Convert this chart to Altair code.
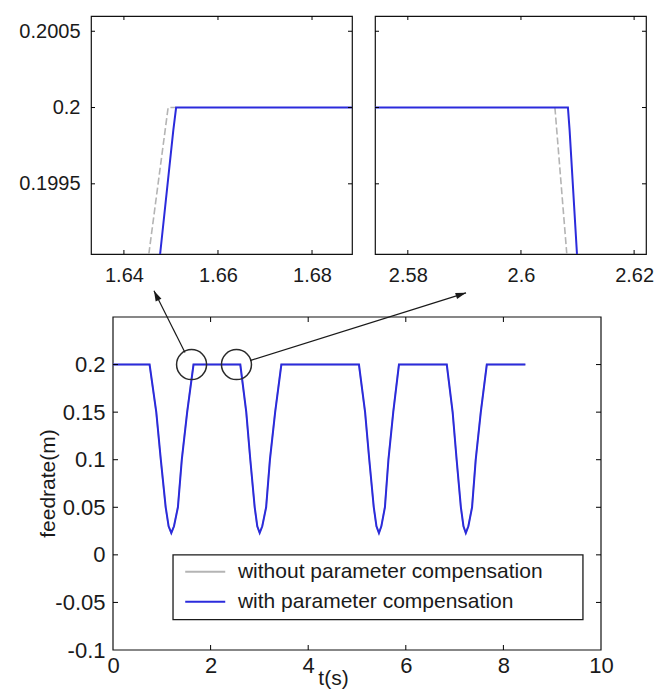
import altair as alt
import pandas as pd

# ---------------- data ----------------
# main panel: feedrate with parameter compensation
t_with = [0.0, 0.75, 0.887, 0.98, 1.08, 1.14, 1.195, 1.25, 1.33, 1.41, 1.52, 1.65,
          2.609, 2.731, 2.814, 2.904, 2.957, 3.006, 3.059, 3.138, 3.216, 3.323, 3.45,
          5.04, 5.166, 5.252, 5.344, 5.399, 5.45, 5.499, 5.572, 5.644, 5.743, 5.86,
          6.84, 6.96, 7.042, 7.129, 7.182, 7.23, 7.282, 7.358, 7.433, 7.537, 7.66, 8.45]
f_with = [0.2, 0.2, 0.15, 0.10, 0.05, 0.03, 0.023, 0.03, 0.05, 0.10, 0.15, 0.2,
          0.2, 0.15, 0.10, 0.05, 0.03, 0.023, 0.03, 0.05, 0.10, 0.15, 0.2,
          0.2, 0.15, 0.10, 0.05, 0.03, 0.023, 0.03, 0.05, 0.10, 0.15, 0.2,
          0.2, 0.15, 0.10, 0.05, 0.03, 0.023, 0.03, 0.05, 0.10, 0.15, 0.2, 0.2]
# main panel: feedrate without parameter compensation (almost identical)
t_without = [0.0, 0.748, 0.885, 0.978, 1.078, 1.138, 1.193, 1.248, 1.328, 1.408, 1.518, 1.648,
             2.606, 2.729, 2.812, 2.902, 2.955, 3.004, 3.057, 3.136, 3.214, 3.321, 3.448,
             5.038, 5.164, 5.25, 5.342, 5.397, 5.448, 5.497, 5.57, 5.642, 5.741, 5.858,
             6.838, 6.958, 7.04, 7.127, 7.18, 7.228, 7.28, 7.356, 7.431, 7.535, 7.658, 8.45]
f_without = f_with

# zoomed insets
in1_t_with = [1.6477, 1.6505, 1.6511, 1.6885]
in1_f_with = [0.19904, 0.19985, 0.2, 0.2]
in1_t_without = [1.6453, 1.6494, 1.6511]
in1_f_without = [0.19904, 0.2, 0.2]

in2_t_with = [2.5742, 2.6083, 2.6086, 2.6099]
in2_f_with = [0.2, 0.2, 0.19985, 0.19904]
in2_t_without = [2.6060, 2.6081]
in2_f_without = [0.2, 0.19904]

# tick values
main_xticks = [0, 2, 4, 6, 8, 10]
main_yticks = [-0.1, -0.05, 0, 0.05, 0.1, 0.15, 0.2]
in_yticks = [0.1995, 0.2, 0.2005]
in1_xticks = [1.64, 1.66, 1.68]
in2_xticks = [2.58, 2.6, 2.62]

# annotations on the main panel
circle_t = [1.61, 2.53]
circle_f = [0.2, 0.2]
arrow_t0 = [1.475, 2.81]
arrow_f0 = [0.2126, 0.2042]
arrow_t1 = [0.84, 7.234]
arrow_f1 = [0.2775, 0.2754]
arrow_angle = [334, 72.5]

legend_labels = ["without parameter compensation", "with parameter compensation"]
legend_colors = ["#b4b4b4", "#2b2bdc"]
legend_f = [-0.0178, -0.0492]

BLUE = "#2b2bdc"
GRAY = "#b4b4b4"
FONT = "Liberation Sans"
INK = "#1a1a1a"

FMT = "datum.value < 0 ? '-' + format(-datum.value, '~g') : format(datum.value, '~g')"


def inward_ticks(xvals, yvals, X, Y, x0, x1, H, L):
    dx = pd.DataFrame({"v": xvals})
    dy = pd.DataFrame({"v": yvals})
    base_x = alt.Chart(dx).mark_rule(color="#000", strokeWidth=1)
    base_y = alt.Chart(dy).mark_rule(color="#000", strokeWidth=1)
    xb = base_x.encode(x=X("v"), y=alt.value(H), y2=alt.value(H - L))
    xt = base_x.encode(x=X("v"), y=alt.value(0), y2=alt.value(L))
    yl = base_y.encode(y=Y("v"), x=alt.value(x0), x2=alt.value(x0 + L))
    yr = base_y.encode(y=Y("v"), x=alt.value(x1), x2=alt.value(x1 - L))
    return [xb, xt, yl, yr]


def inset(t_with_, f_with_, t_wo, f_wo, xdom, xticks, W, H, show_y):
    xs = alt.Scale(domain=xdom, nice=False, zero=False)
    ys = alt.Scale(domain=[0.19904, 0.2006], nice=False, zero=False)
    xaxis = alt.Axis(values=xticks, labelExpr=FMT, ticks=False, domain=False, grid=False,
                     labelFontSize=20, labelPadding=11, title=None, labelFont=FONT,
                     labelColor=INK, labelFlush=False)
    yaxis = alt.Axis(values=in_yticks, labelExpr=FMT, ticks=False, domain=False, grid=False,
                     labelFontSize=20, labelPadding=11, title=None, labelFont=FONT,
                     labelColor=INK, labels=show_y)

    def X(f):
        return alt.X(f + ":Q", scale=xs, axis=xaxis)

    def Y(f):
        return alt.Y(f + ":Q", scale=ys, axis=yaxis)

    d_wo = pd.DataFrame({"t": t_wo, "f": f_wo})
    d_w = pd.DataFrame({"t": t_with_, "f": f_with_})
    wo = alt.Chart(d_wo).mark_line(color=GRAY, strokeWidth=1.6, strokeDash=[7, 3]).encode(
        x=X("t"), y=Y("f"))
    w = alt.Chart(d_w).mark_line(color=BLUE, strokeWidth=2).encode(x=X("t"), y=Y("f"))
    layers = [wo, w] + inward_ticks(xticks, in_yticks, X, Y, 0, W, H, 4)
    return alt.layer(*layers).properties(width=W, height=H)


# ---------------- insets ----------------
W1, W2, HI = 261, 271, 238
inset1 = inset(in1_t_with, in1_f_with, in1_t_without, in1_f_without,
               [1.633, 1.6885], in1_xticks, W1, HI, True)
inset2 = inset(in2_t_with, in2_f_with, in2_t_without, in2_f_without,
               [2.5742, 2.6221], in2_xticks, W2, HI, False)

# ---------------- main panel ----------------
# the main frame sits 22px to the right of the inset's frame; the group is wider
SHIFT = 22
WM, HM = 510, 333
xs = alt.Scale(domain=[0, 10], nice=False, zero=False, range=[SHIFT, WM])
ys = alt.Scale(domain=[-0.1, 0.25], nice=False, zero=False)

xaxis = alt.Axis(values=main_xticks, labelExpr=FMT, ticks=False, domain=False, grid=False,
                 labelFontSize=22, labelPadding=5, labelFont=FONT, labelColor=INK,
                 title="t(s)", titleFont=FONT, titleFontSize=21, titleFontWeight="normal",
                 titleColor=INK, titleX=SHIFT + 220, titleY=34, titleBaseline="alphabetic",
                 titleAlign="center", labelFlush=False)
yaxis = alt.Axis(values=main_yticks, labelExpr=FMT, ticks=False, domain=False, grid=False,
                 labelFontSize=22, labelPadding=8, labelFont=FONT, labelColor=INK,
                 offset=-SHIFT,
                 title="feedrate(m)", titleFont=FONT, titleFontSize=21, titleFontWeight="normal",
                 titleColor=INK, titleX=-55, titleY=166, titleAngle=270,
                 titleBaseline="bottom", titleAlign="center")


def MX(f):
    return alt.X(f + ":Q", scale=xs, axis=xaxis)


def MY(f):
    return alt.Y(f + ":Q", scale=ys, axis=yaxis)


frame = alt.Chart(pd.DataFrame({"x1": [0], "x2": [10], "y1": [-0.1], "y2": [0.25]})).mark_rect(
    fill="white", stroke="#111", strokeWidth=1.2).encode(
    x=MX("x1"), x2="x2:Q", y=MY("y1"), y2="y2:Q")

d_main_wo = pd.DataFrame({"t": t_without, "f": f_without})
d_main_w = pd.DataFrame({"t": t_with, "f": f_with})
main_wo = alt.Chart(d_main_wo).mark_line(color=GRAY, strokeWidth=1.5).encode(x=MX("t"), y=MY("f"))
main_w = alt.Chart(d_main_w).mark_line(color=BLUE, strokeWidth=2).encode(x=MX("t"), y=MY("f"))

d_circ = pd.DataFrame({"t": circle_t, "f": circle_f})
circles = alt.Chart(d_circ).mark_point(shape="circle", size=900, filled=False, color="#2a2a2a",
                                       strokeWidth=1.5, opacity=1).encode(x=MX("t"), y=MY("f"))

d_arr = pd.DataFrame({"t0": arrow_t0, "f0": arrow_f0, "t1": arrow_t1, "f1": arrow_f1,
                      "a": arrow_angle})
arrows = alt.Chart(d_arr).mark_rule(color=INK, strokeWidth=1.2).encode(
    x=MX("t0"), y=MY("f0"), x2="t1:Q", y2="f1:Q")
heads = alt.Chart(d_arr).mark_point(shape="M0,0L0.8,2.6L-0.8,2.6Z", size=64, filled=True,
                                    color=INK, opacity=1).encode(
    x=MX("t1"), y=MY("f1"), angle=alt.Angle("a:Q", scale=None))

legend_box = alt.Chart(pd.DataFrame({"x1": [1.23], "x2": [9.63], "y1": [0.0], "y2": [-0.068]})).mark_rect(
    fill="white", stroke=INK, strokeWidth=1.3).encode(
    x=MX("x1"), x2="x2:Q", y=MY("y1"), y2="y2:Q")
d_leg = pd.DataFrame({"label": legend_labels, "color": legend_colors, "f": legend_f,
                      "xa": [1.48, 1.48], "xb": [2.30, 2.30], "xt": [2.56, 2.56]})
legend_lines = alt.Chart(d_leg).mark_rule(strokeWidth=2).encode(
    x=MX("xa"), x2="xb:Q", y=MY("f"), color=alt.Color("color:N", scale=None))
legend_text = alt.Chart(d_leg).mark_text(align="left", baseline="middle", font=FONT, fontSize=21,
                                         color=INK).encode(
    x=MX("xt"), y=MY("f"), text="label:N")

main_layers = [frame, main_wo, main_w, circles, arrows, heads, legend_box, legend_lines, legend_text]
main_layers += inward_ticks(main_xticks[1:-1], main_yticks[1:], MX, MY, SHIFT, WM, HM, 5)
main = alt.layer(*main_layers).properties(
    width=WM, height=HM, view=alt.ViewBackground(stroke="transparent"))

top = alt.hconcat(inset1, inset2, spacing=13)
chart = alt.vconcat(top, main, spacing=3).properties(
    padding={"left": 10, "top": 6, "right": 0, "bottom": 0},
    background="white",
).configure_view(stroke="#111", strokeWidth=1.2)

chart.save("out.html", embed_options={"renderer": "svg", "actions": False})
